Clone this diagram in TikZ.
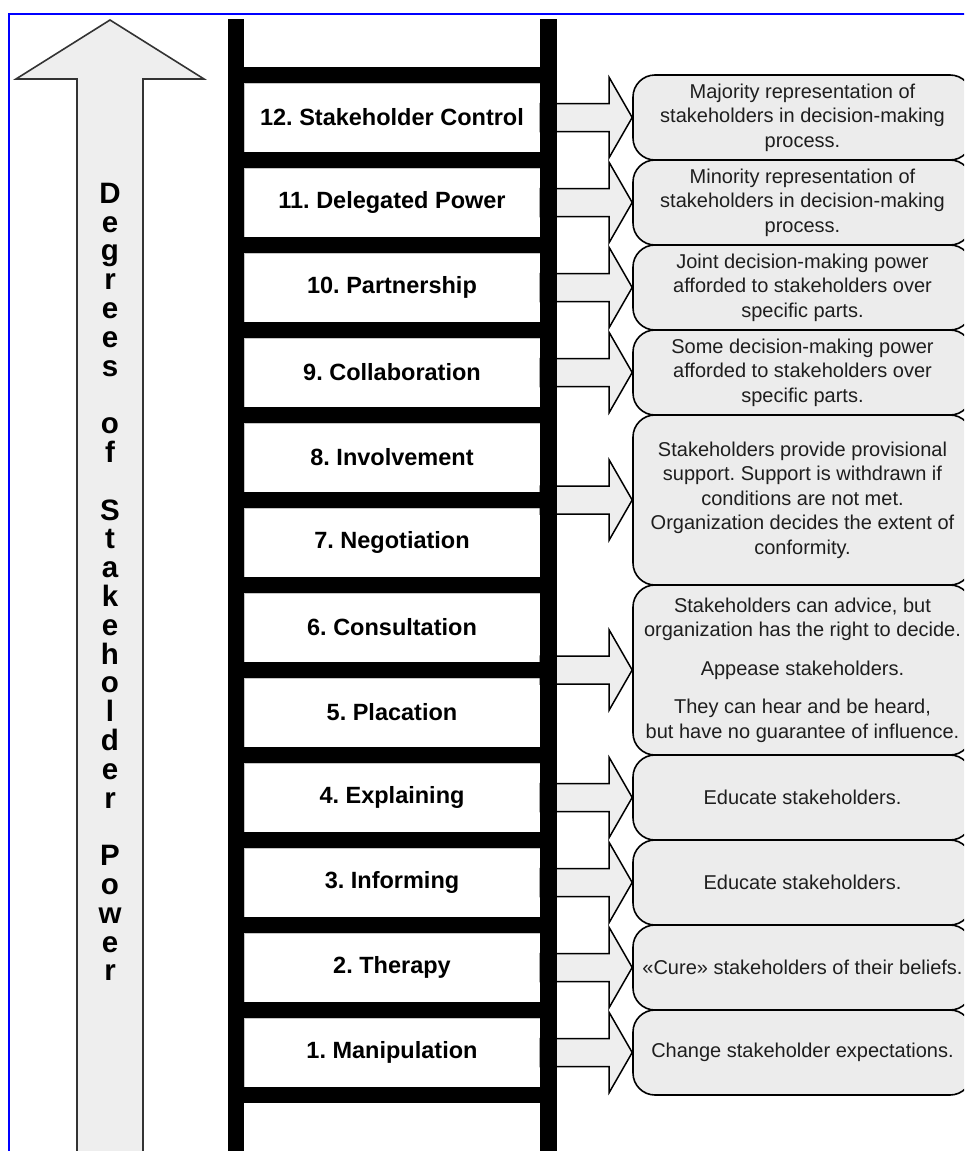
\documentclass[tikz,border=0pt]{standalone}
\usepackage{fontspec}
\setmainfont{Liberation Sans}
\usetikzlibrary{calc}
\frenchspacing
\definecolor{boxgray}{HTML}{ECECEC}
\definecolor{arrgray}{HTML}{EEEEEE}
\definecolor{framecol}{HTML}{0000FF}
\definecolor{txtgray}{HTML}{1E1E1E}
\definecolor{edgegray}{HTML}{333333}
\tikzset{
  cell/.style={rectangle, inner sep=0pt, minimum width=296pt, minimum height=69pt,
    fill=white, draw=gray!45, line width=0.6pt,
    font=\fontsize{23.5}{28}\selectfont\bfseries\frenchspacing},
  descbox/.style={rectangle, rounded corners=22pt, minimum width=339pt, minimum height=85pt,
    inner sep=0pt, fill=boxgray, draw=black, line width=1.6pt, align=center,
    font=\fontsize{20}{24.5}\selectfont\frenchspacing, text=txtgray},
  tallbox/.style={descbox, minimum height=170pt},
  blockarrow/.style={fill=arrgray, draw=black, line width=1.5pt, line join=miter},
  bigarrow/.style={fill=arrgray, draw=edgegray, line width=1.6pt, line join=miter},
  rail/.style={fill=black, draw=none},
  vtext/.style={align=center, inner sep=0pt, font=\fontsize{29.5}{28.8}\selectfont\bfseries}
}
\newcommand\ladderarrow[2]{%
  \draw[blockarrow] ($(#1)+(0,-14)$) -- ($(#2)+(-23,-14)$) -- ($(#2)+(-23,-40)$)
    -- (#2) -- ($(#2)+(-23,40)$) -- ($(#2)+(-23,14)$) -- ($(#1)+(0,14)$) -- cycle;}
\begin{document}
\begin{tikzpicture}[x=1pt,y=-1pt]
\useasboundingbox (0,0) rectangle (964,1151);
\clip (0,0) rectangle (964,1151);
\fill[white] (0,0) rectangle (964,1151);
% frame
\draw[framecol, line width=2pt] (9,1170) -- (9,14) -- (980,14);
% big upward arrow
\draw[bigarrow] (110,20) -- (204,79) -- (143,79) -- (143,1170) -- (77,1170) -- (77,79) -- (16,79) -- cycle;
\node[vtext] (vlabel) at (110,582) {D\\e\\g\\r\\e\\e\\s\\[28.8pt]o\\f\\[28.8pt]S\\t\\a\\k\\e\\h\\o\\l\\d\\e\\r\\[28.8pt]P\\o\\w\\e\\r};
% ladder cells
\node[cell] (c12) at (392,117.5) {12. Stakeholder Control};
\node[cell] (c11) at (392,202.5) {11. Delegated Power};
\node[cell] (c10) at (392,287.5) {10. Partnership};
\node[cell] (c9) at (392,372.5) {9. Collaboration};
\node[cell] (c8) at (392,457.5) {8. Involvement};
\node[cell] (c7) at (392,542.5) {7. Negotiation};
\node[cell] (c6) at (392,627.5) {6. Consultation};
\node[cell] (c5) at (392,712.5) {5. Placation};
\node[cell] (c4) at (392,797.5) {4. Explaining};
\node[cell] (c3) at (392,882.5) {3. Informing};
\node[cell] (c2) at (392,967.5) {2. Therapy};
\node[cell] (c1) at (392,1052.5) {1. Manipulation};
% description boxes
\node[descbox] (b12) at (802.5,117.5) {Majority representation of\\stakeholders in decision-making\\process.};
\node[descbox] (b11) at (802.5,202.5) {Minority representation of\\stakeholders in decision-making\\process.};
\node[descbox] (b10) at (802.5,287.5) {Joint decision-making power\\afforded to stakeholders over\\specific parts.};
\node[descbox] (b9) at (802.5,372.5) {Some decision-making power\\afforded to stakeholders over\\specific parts.};
\node[tallbox] (b87) at (802.5,500) {Stakeholders provide provisional\\support. Support is withdrawn if\\conditions are not met.\\Organization decides the extent of\\conformity.};
\node[tallbox] (b65) at (802.5,670) {Stakeholders can advice, but\\organization has the right to decide.\\[14pt]Appease stakeholders.\\[14pt]They can hear and be heard,\\but have no guarantee of influence.};
\node[descbox] (b4) at (802.5,797.5) {Educate stakeholders.};
\node[descbox] (b3) at (802.5,882.5) {Educate stakeholders.};
\node[descbox] (b2) at (802.5,967.5) {«Cure» stakeholders of their beliefs.};
\node[descbox] (b1) at (802.5,1052.5) {Change stakeholder expectations.};
% block arrows
\coordinate (s87) at ($(c8.east)!0.5!(c7.east)$);
\coordinate (s65) at ($(c6.east)!0.5!(c5.east)$);
\ladderarrow{c12.east}{b12.west}
\ladderarrow{c11.east}{b11.west}
\ladderarrow{c10.east}{b10.west}
\ladderarrow{c9.east}{b9.west}
\ladderarrow{s87}{b87.west}
\ladderarrow{s65}{b65.west}
\ladderarrow{c4.east}{b4.west}
\ladderarrow{c3.east}{b3.west}
\ladderarrow{c2.east}{b2.west}
\ladderarrow{c1.east}{b1.west}
% ladder rails and rungs
\fill[rail] (228,19) rectangle (244,1170);
\fill[rail] (540,19) rectangle (557,1170);
\foreach \k in {0,...,12} {
  \fill[rail] (244,67+85*\k) rectangle (540,83+85*\k);
}
\end{tikzpicture}
\end{document}
